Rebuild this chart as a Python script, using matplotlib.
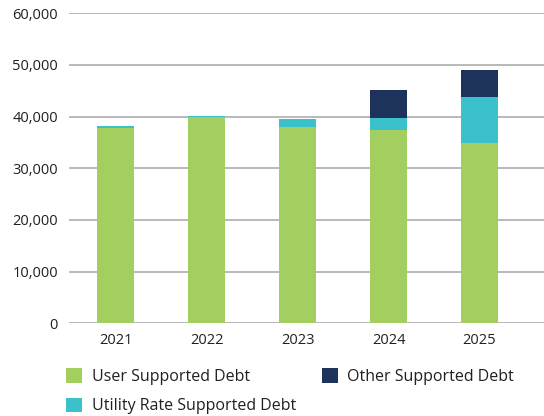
import matplotlib
matplotlib.use("Agg")
import matplotlib.pyplot as plt
import numpy as np

years = ["2021", "2022", "2023", "2024", "2025"]
user_supported = [37800, 39850, 38000, 37350, 34900]
utility_rate_supported = [400, 250, 1550, 2450, 8950]
other_supported = [0, 0, 0, 5300, 5230]

series_names = ["User Supported Debt", "Utility Rate Supported Debt", "Other Supported Debt"]
colors = ["#a2cf60", "#3bc1cb", "#1d335c"]
y_ticks = [0, 10000, 20000, 30000, 40000, 50000, 60000]

plt.rcParams["font.family"] = ["Open Sans", "DejaVu Sans"]

fig = plt.figure(figsize=(5.44, 4.16), dpi=100)
ax = fig.add_axes([69 / 544, 1 - 323.3 / 416, 1 - 69 / 544, (323.3 - 13.3) / 416])

x = np.arange(len(years))
width = 0.4
bottom = np.zeros(len(years))
handles = []
for name, vals, c in zip(series_names, [user_supported, utility_rate_supported, other_supported], colors):
    vals = np.array(vals, dtype=float)
    h = ax.bar(x, vals, width, bottom=bottom, color=c, linewidth=0,
               label=name, zorder=3)
    handles.append(h)
    bottom += vals

ax.set_ylim(0, 60000)
ax.set_xlim(-0.513, 4.709)
ax.set_yticks(y_ticks)
ax.set_yticklabels([f"{v:,}" for v in y_ticks])
ax.set_xticks(x)
ax.set_xticklabels(years)
ax.tick_params(axis="both", length=0, labelsize=10.5, colors="#231f20")
ax.tick_params(axis="y", pad=8)
ax.tick_params(axis="x", pad=7)
ax.yaxis.grid(True, color="#b3b3b3", linewidth=1.3, zorder=0)
ax.set_axisbelow(True)
for s in ax.spines.values():
    s.set_visible(False)

leg = fig.legend(handles=handles, labels=series_names, ncol=2,
                 loc="upper left", bbox_to_anchor=(60 / 544, 1 - 362 / 416),
                 frameon=False, fontsize=11.5, handlelength=1.0, handleheight=1.0,
                 handletextpad=0.6, columnspacing=1.6, labelspacing=0.8,
                 labelcolor="#231f20", borderaxespad=0)

fig.savefig("out.png", dpi=100)
